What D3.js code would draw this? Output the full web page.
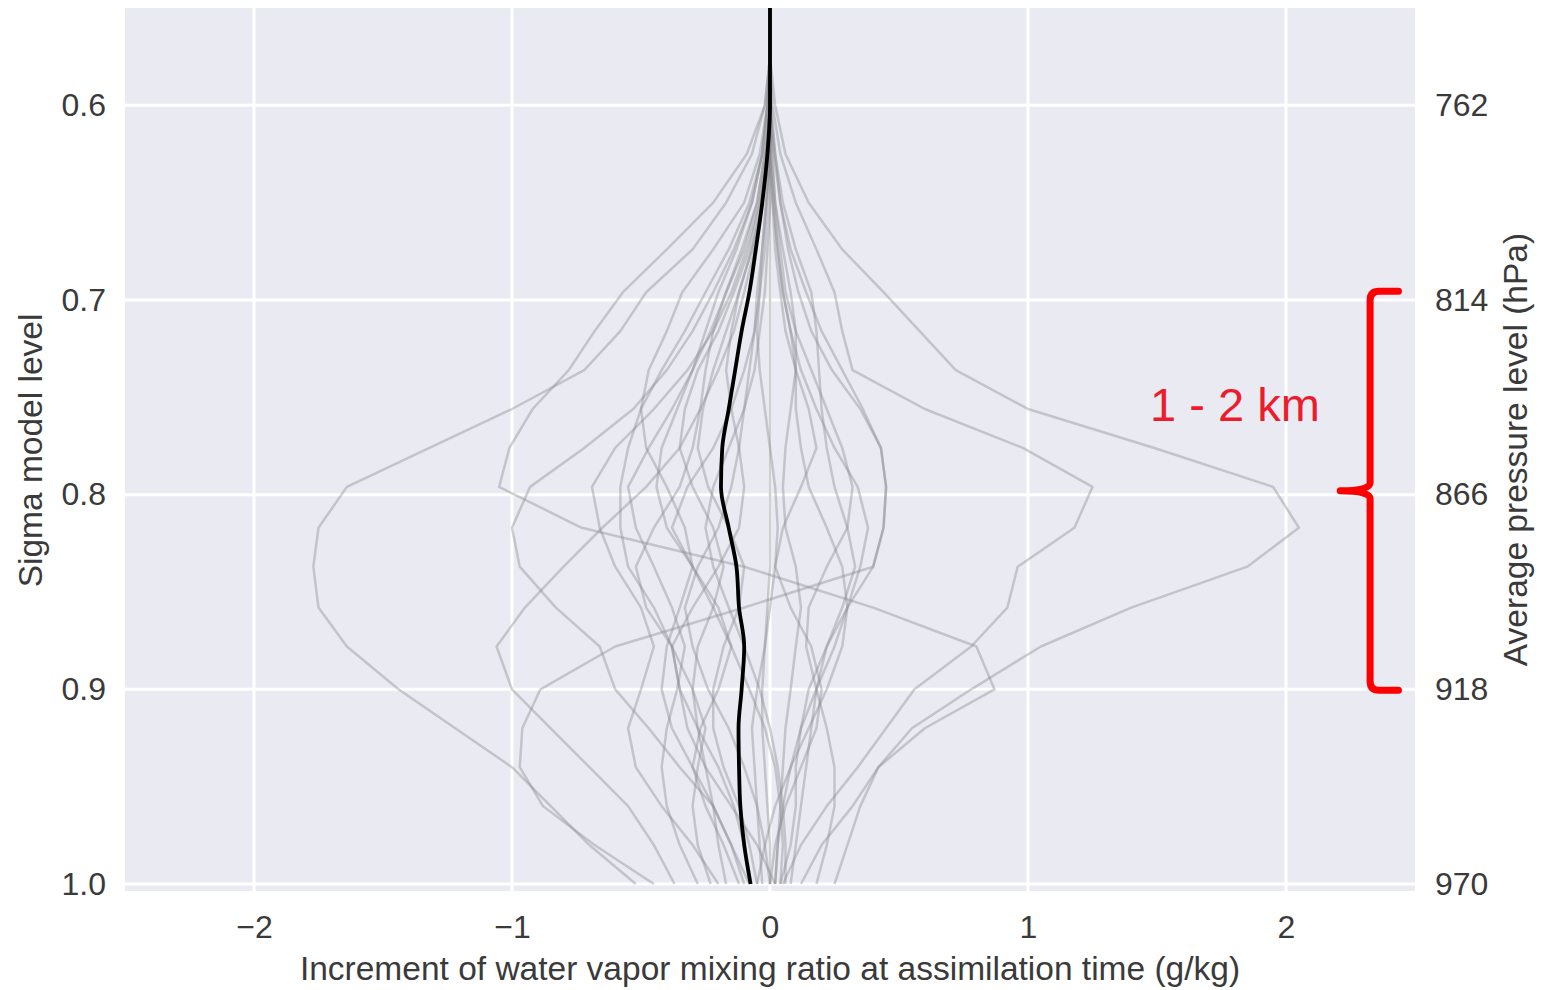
<!DOCTYPE html>
<html>
<head>
<meta charset="utf-8">
<script src="https://cdn.jsdelivr.net/npm/d3@7"></script>
<style>
  html, body { margin: 0; padding: 0; background: #ffffff; }
  svg { display: block; }
  text { font-family: "Liberation Sans", Arial, sans-serif; }
</style>
</head>
<body>
<svg id="chart" width="1551" height="990"></svg>
<script>
// Sigma model levels at which each profile is sampled (surface first)
const sigmaLevels = [1.0, 0.98, 0.96, 0.94, 0.92, 0.90, 0.878, 0.858, 0.837, 0.817, 0.796,
                     0.776, 0.756, 0.736, 0.716, 0.696, 0.674, 0.65, 0.625, 0.60, 0.575, 0.55];

// Water vapour mixing-ratio increments (g/kg) for each assimilation cycle
const memberProfiles = [
  [-0.52, -0.70, -0.85, -1.00, -1.22, -1.44, -1.64, -1.75, -1.77, -1.75, -1.64, -1.32, -1.00, -0.72, -0.58, -0.48, -0.30, -0.17, -0.07, -0.02, 0, 0],
  [0.12, 0.20, 0.32, 0.42, 0.55, 0.78, 1.05, 1.40, 1.85, 2.05, 1.95, 1.49, 1.00, 0.72, 0.58, 0.44, 0.28, 0.15, 0.06, 0.02, 0, 0],
  [0.05, 0.12, 0.22, 0.34, 0.45, 0.56, 0.78, 0.92, 0.96, 1.18, 1.25, 0.98, 0.60, 0.32, 0.28, 0.25, 0.18, 0.10, 0.04, 0.01, 0, 0],
  [0.25, 0.30, 0.35, 0.42, 0.60, 0.87, 0.80, 0.40, -0.10, -0.73, -1.05, -1.01, -0.92, -0.78, -0.68, -0.57, -0.40, -0.22, -0.09, -0.02, 0, 0],
  [-0.08, -0.15, -0.22, -0.35, -0.47, -0.60, -0.66, -0.83, -0.97, -1.00, -0.93, -0.72, -0.53, -0.40, -0.30, -0.22, -0.14, -0.07, -0.03, -0.01, 0, 0],
  [-0.37, -0.45, -0.55, -0.70, -0.85, -1.00, -1.06, -0.95, -0.80, -0.65, -0.48, -0.35, -0.27, -0.20, -0.14, -0.10, -0.06, -0.03, -0.01, 0, 0, 0],
  [-0.45, -0.68, -0.88, -0.97, -0.96, -0.89, -0.60, -0.10, 0.40, 0.44, 0.45, 0.43, 0.35, 0.24, 0.16, 0.11, 0.07, 0.04, 0.02, 0.005, 0, 0],
  [-0.20, -0.30, -0.42, -0.52, -0.55, -0.50, -0.45, -0.50, -0.60, -0.66, -0.69, -0.60, -0.45, -0.32, -0.22, -0.15, -0.09, -0.04, -0.015, 0, 0, 0],
  [0.02, -0.05, -0.15, -0.25, -0.32, -0.35, -0.38, -0.45, -0.55, -0.58, -0.58, -0.55, -0.50, -0.42, -0.33, -0.25, -0.16, -0.08, -0.03, -0.01, 0, 0],
  [-0.10, -0.15, -0.22, -0.30, -0.38, -0.42, -0.40, -0.35, -0.30, -0.33, -0.40, -0.48, -0.50, -0.47, -0.40, -0.34, -0.22, -0.10, -0.04, -0.01, 0, 0],
  [-0.23, -0.28, -0.30, -0.28, -0.25, -0.30, -0.38, -0.48, -0.52, -0.45, -0.35, -0.30, -0.27, -0.25, -0.22, -0.17, -0.10, -0.05, -0.02, 0, 0, 0],
  [-0.12, -0.18, -0.25, -0.30, -0.27, -0.20, -0.15, -0.20, -0.30, -0.40, -0.44, -0.42, -0.36, -0.30, -0.25, -0.20, -0.13, -0.07, -0.03, -0.01, 0, 0],
  [0.00, -0.02, -0.05, -0.10, -0.16, -0.24, -0.30, -0.33, -0.28, -0.20, -0.15, -0.12, -0.10, -0.08, -0.06, -0.05, -0.03, -0.015, 0, 0, 0, 0],
  [0.04, 0.08, 0.10, 0.10, 0.12, 0.15, 0.22, 0.30, 0.40, 0.44, 0.45, 0.43, 0.36, 0.28, 0.20, 0.14, 0.08, 0.04, 0.015, 0, 0, 0],
  [0.02, 0.03, 0.05, 0.08, 0.12, 0.18, 0.25, 0.30, 0.35, 0.38, 0.34, 0.25, 0.18, 0.12, 0.08, 0.05, 0.03, 0.015, 0, 0, 0, 0],
  [-0.05, -0.02, 0.02, 0.08, 0.15, 0.22, 0.28, 0.30, 0.28, 0.22, 0.15, 0.12, 0.10, 0.10, 0.08, 0.05, 0.03, 0.01, 0, 0, 0, 0],
  [0.08, 0.10, 0.12, 0.14, 0.16, 0.18, 0.22, 0.28, 0.33, 0.30, 0.25, 0.22, 0.20, 0.19, 0.18, 0.16, 0.10, 0.05, 0.02, 0, 0, 0],
  [0.02, 0.03, 0.04, 0.05, 0.06, 0.08, 0.10, 0.12, 0.10, 0.06, 0.05, 0.06, 0.08, 0.10, 0.10, 0.08, 0.05, 0.02, 0.01, 0, 0, 0],
  [-0.03, -0.04, -0.05, -0.06, -0.07, -0.05, -0.02, 0.00, 0.02, 0.03, 0.02, 0.00, -0.02, -0.04, -0.05, -0.04, -0.03, -0.015, 0, 0, 0, 0],
  [0.00, 0.00, -0.01, -0.02, -0.03, -0.03, -0.02, -0.01, 0, 0, 0, 0, 0, 0, 0, 0, 0, 0, 0, 0, 0, 0],
  [-0.17, -0.20, -0.22, -0.25, -0.28, -0.30, -0.28, -0.22, -0.18, -0.22, -0.30, -0.35, -0.33, -0.28, -0.20, -0.14, -0.08, -0.04, -0.01, 0, 0, 0],
  [0.04, 0.05, 0.04, 0.02, -0.02, -0.08, -0.15, -0.22, -0.30, -0.38, -0.32, -0.22, -0.15, -0.10, -0.06, -0.04, -0.02, -0.01, 0, 0, 0, 0],
  [0.18, 0.22, 0.25, 0.25, 0.22, 0.18, 0.14, 0.15, 0.22, 0.30, 0.32, 0.28, 0.22, 0.16, 0.10, 0.06, 0.04, 0.02, 0.005, 0, 0, 0],
  [-0.08, -0.10, -0.14, -0.20, -0.28, -0.35, -0.38, -0.30, -0.20, -0.12, -0.10, -0.12, -0.15, -0.17, -0.15, -0.12, -0.07, -0.03, -0.01, 0, 0, 0],
  [-0.28, -0.35, -0.40, -0.42, -0.40, -0.36, -0.33, -0.38, -0.45, -0.52, -0.55, -0.47, -0.38, -0.30, -0.23, -0.17, -0.11, -0.05, -0.02, 0, 0, 0],
  [0.00, 0.02, 0.06, 0.12, 0.18, 0.20, 0.16, 0.08, 0.02, 0.05, 0.12, 0.18, 0.15, 0.10, 0.06, 0.04, 0.02, 0.01, 0, 0, 0, 0],
  [-0.05, -0.08, -0.12, -0.18, -0.22, -0.22, -0.18, -0.12, -0.10, -0.16, -0.24, -0.28, -0.26, -0.22, -0.17, -0.12, -0.07, -0.03, -0.01, 0, 0, 0],
  [0.06, 0.06, 0.05, 0.03, 0.00, -0.04, -0.10, -0.16, -0.22, -0.25, -0.22, -0.16, -0.10, -0.06, -0.04, -0.02, -0.01, 0, 0, 0, 0, 0]
];

// Mean increment profile (g/kg)
const meanProfile = [-0.075, -0.10, -0.115, -0.12, -0.122, -0.11, -0.10, -0.12, -0.13, -0.16, -0.19,
                     -0.185, -0.16, -0.135, -0.11, -0.08, -0.055, -0.03, -0.01, 0, 0, 0];

// Axis ticks
const xTicks = [-2, -1, 0, 1, 2];
const sigmaTicks = [0.6, 0.7, 0.8, 0.9, 1.0];
const pressureLabels = ["762", "814", "866", "918", "970"];

// Annotated layer (sigma range) and its label
const layerRange = [0.6955, 0.9005];
const layerLabel = "1 - 2 km";

const svg = d3.select("#chart");
const plot = { left: 125, right: 1415, top: 8, bottom: 891 };

const x = d3.scaleLinear().domain([-2.5, 2.5]).range([plot.left, plot.right]);
const y = d3.scaleLinear().domain([0.55, 1.0036]).range([plot.top, plot.bottom]);

// Plot background
svg.append("rect")
  .attr("x", plot.left).attr("y", plot.top)
  .attr("width", plot.right - plot.left).attr("height", plot.bottom - plot.top)
  .attr("fill", "#eaeaf2");

// Grid
const grid = svg.append("g");
grid.selectAll("line.v").data(xTicks).join("line")
  .attr("x1", d => x(d)).attr("x2", d => x(d))
  .attr("y1", plot.top).attr("y2", plot.bottom)
  .attr("stroke", "#ffffff").attr("stroke-width", 3);
grid.selectAll("line.h").data(sigmaTicks).join("line")
  .attr("x1", plot.left).attr("x2", plot.right)
  .attr("y1", d => y(d)).attr("y2", d => y(d))
  .attr("stroke", "#ffffff").attr("stroke-width", 3);

// Profiles
const line = d3.line()
  .x(d => x(d[0]))
  .y(d => y(d[1]));

svg.append("g").selectAll("path").data(memberProfiles).join("path")
  .attr("d", p => line(p.map((v, i) => [v, sigmaLevels[i]])))
  .attr("fill", "none")
  .attr("stroke", "#8a8a8e")
  .attr("stroke-opacity", 0.4)
  .attr("stroke-width", 2.5)
  .attr("stroke-linejoin", "round");

svg.append("path")
  .attr("d", line.curve(d3.curveMonotoneY)(meanProfile.map((v, i) => [v, sigmaLevels[i]])))
  .attr("fill", "none")
  .attr("stroke", "#000000")
  .attr("stroke-width", 3.8);

// Axes
const tickFont = "32px";
const labelFont = "33.5px";
const tickColor = "#3a3a3a";

const gLeft = svg.append("g").attr("transform", `translate(${plot.left},0)`)
  .call(d3.axisLeft(y).tickValues(sigmaTicks).tickFormat(d3.format(".1f")).tickSize(0).tickPadding(19));
const gRight = svg.append("g").attr("transform", `translate(${plot.right},0)`)
  .call(d3.axisRight(y).tickValues(sigmaTicks).tickFormat((d, i) => pressureLabels[i]).tickSize(0).tickPadding(20));
const gBottom = svg.append("g").attr("transform", `translate(0,${plot.bottom})`)
  .call(d3.axisBottom(x).tickValues(xTicks).tickFormat(d => d < 0 ? "\u2212" + Math.abs(d) : String(d)).tickSize(0).tickPadding(24));

[gLeft, gRight, gBottom].forEach(g => {
  g.select(".domain").remove();
  g.selectAll("text")
    .attr("fill", tickColor)
    .style("font-size", tickFont)
    .style("font-family", "'Liberation Sans', Arial, sans-serif");
});

// Axis titles
svg.append("text")
  .attr("transform", `translate(42,${(plot.top + plot.bottom) / 2 + 1}) rotate(-90)`)
  .attr("text-anchor", "middle")
  .attr("fill", tickColor)
  .style("font-size", labelFont)
  .text("Sigma model level");

svg.append("text")
  .attr("transform", `translate(1527,${(plot.top + plot.bottom) / 2}) rotate(-90)`)
  .attr("text-anchor", "middle")
  .attr("fill", tickColor)
  .style("font-size", labelFont)
  .text("Average pressure level (hPa)");

svg.append("text")
  .attr("x", x(0)).attr("y", 980)
  .attr("text-anchor", "middle")
  .attr("fill", tickColor)
  .style("font-size", labelFont)
  .text("Increment of water vapor mixing ratio at assimilation time (g/kg)");

// Curly brace marking the layer
const bx = x(2.326), tipX = x(2.21), endX = x(2.436);
const yTop = y(layerRange[0]), yBot = y(layerRange[1]), yMid = (yTop + yBot) / 2;
const r = 9;
const brace = d3.path();
brace.moveTo(endX, yTop);
brace.lineTo(bx + r, yTop);
brace.quadraticCurveTo(bx, yTop, bx, yTop + r);
brace.lineTo(bx, yMid - 8);
brace.quadraticCurveTo(bx, yMid, tipX, yMid);
brace.quadraticCurveTo(bx, yMid, bx, yMid + 8);
brace.lineTo(bx, yBot - r);
brace.quadraticCurveTo(bx, yBot, bx + r, yBot);
brace.lineTo(endX, yBot);
svg.append("path")
  .attr("d", brace.toString())
  .attr("fill", "none")
  .attr("stroke", "#ff0000")
  .attr("stroke-width", 7)
  .attr("stroke-linecap", "round")
  .attr("stroke-linejoin", "round");

svg.append("text")
  .attr("x", 1235).attr("y", 421)
  .attr("text-anchor", "middle")
  .attr("fill", "#ec1c2c")
  .style("font-size", "47px")
  .text(layerLabel);
</script>
</body>
</html>
